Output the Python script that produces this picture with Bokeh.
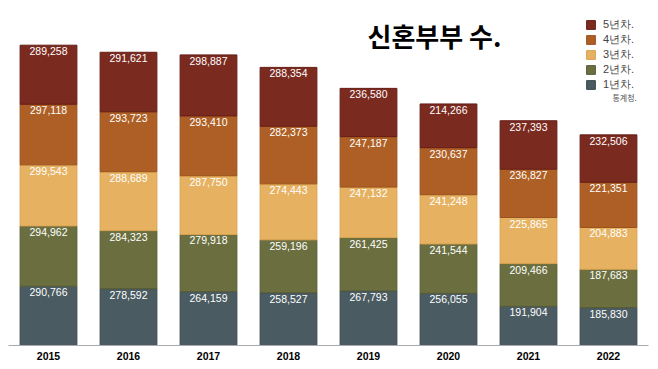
from bokeh.plotting import figure
from bokeh.models import ColumnDataSource, FactorRange, Range1d, Legend, LegendItem, Label
from bokeh.core.properties import value
from bokeh.embed import file_html
from bokeh.resources import INLINE

years = ["2015", "2016", "2017", "2018", "2019", "2020", "2021", "2022"]
y1 = [290766, 278592, 264159, 258527, 267793, 256055, 191904, 185830]
y2 = [294962, 284323, 279918, 259196, 261425, 241544, 209466, 187683]
y3 = [299543, 288689, 287750, 274443, 247132, 241248, 225865, 204883]
y4 = [297118, 293723, 293410, 282373, 247187, 230637, 236827, 221351]
y5 = [289258, 291621, 298887, 288354, 236580, 214266, 237393, 232506]
series_names = ["1년차.", "2년차.", "3년차.", "4년차.", "5년차."]
colors = ["#4a5b61", "#6b6f40", "#e6b262", "#ae5f25", "#7b2a20"]
edge_colors = ["#3d4b50", "#585c34", "#d9a24f", "#9a521e", "#651e16"]
title_text = "신혼부부 수."
source_text = "통계청."

series = [y1, y2, y3, y4, y5]
keys = ["s1", "s2", "s3", "s4", "s5"]
data = {"years": years}
for k, s in zip(keys, series):
    data[k] = s
src = ColumnDataSource(data)

p = figure(x_range=FactorRange(*years), y_range=Range1d(0, 1651500),
           frame_width=640, frame_height=337, output_backend="svg",
           toolbar_location=None, min_border_left=8, min_border_right=2,
           min_border_top=8, min_border_bottom=14)

renderers = p.vbar_stack(keys, x="years", width=0.71, source=src,
                         fill_color=colors, line_color=edge_colors, line_width=1)

# value labels
for i, (k, s) in enumerate(zip(keys, series)):
    tops = [sum(series[j][n] for j in range(i + 1)) for n in range(len(years))]
    lsrc = ColumnDataSource(dict(x=years, y=tops, t=[f"{v:,}" for v in s]))
    p.text(x="x", y="y", text="t", source=lsrc, text_color="white",
           text_font=value("Liberation Sans"), text_font_size="10.5px",
           text_align="center", text_baseline="top", y_offset=2)

legend = Legend(items=[LegendItem(label=series_names[i], renderers=[renderers[i]])
                       for i in reversed(range(5))],
                location=(577, 253), orientation="vertical",
                glyph_width=11, glyph_height=11, label_standoff=7,
                label_text_font="Liberation Sans", label_text_font_size="11px",
                label_height=11, spacing=0, padding=0, margin=0,
                border_line_color=None, background_fill_alpha=0)
p.add_layout(legend)

p.add_layout(Label(x=359, y=292, x_units="screen", y_units="screen", text=title_text,
                   text_font="Noto Sans CJK KR", text_font_style="bold",
                   text_font_size="26px", text_color="black"))
p.add_layout(Label(x=604, y=243, x_units="screen", y_units="screen", text=source_text,
                   text_font="Noto Sans CJK KR", text_font_size="8px", text_color="#555555"))

p.xaxis.axis_line_color = "#aaaaaa"
p.xaxis.major_tick_line_color = None
p.xaxis.minor_tick_line_color = None
p.xaxis.major_tick_out = 0
p.xaxis.major_tick_in = 0
p.xaxis.major_label_text_font = "Liberation Sans"
p.xaxis.major_label_text_font_style = "bold"
p.xaxis.major_label_text_font_size = "10.5px"
p.xaxis.major_label_text_color = "black"
p.xaxis.major_label_standoff = 6
p.yaxis.visible = False
p.xgrid.visible = False
p.ygrid.visible = False
p.outline_line_color = None
p.x_range.range_padding = 0

open("out.html", "w").write(file_html(p, INLINE))
